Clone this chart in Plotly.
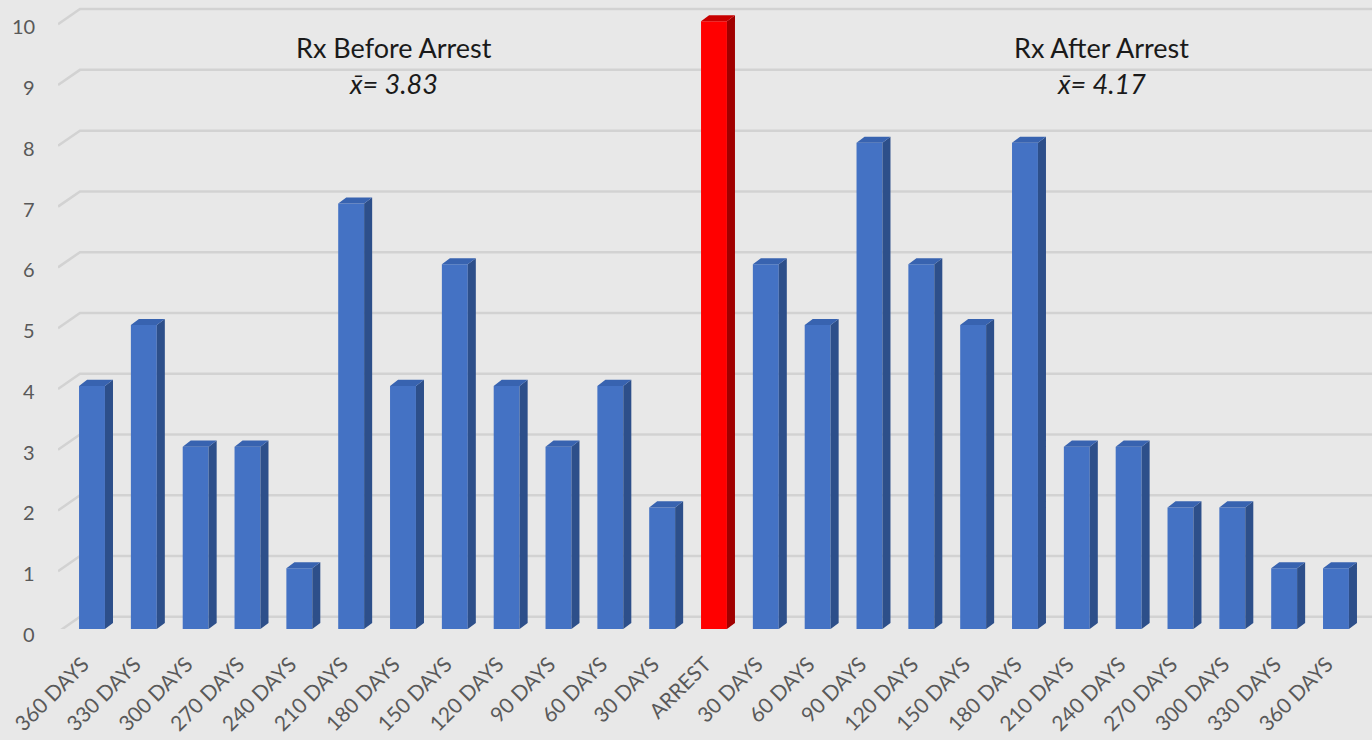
import plotly.graph_objects as go

# ---------------- data ----------------
categories = ["360 DAYS", "330 DAYS", "300 DAYS", "270 DAYS", "240 DAYS", "210 DAYS",
              "180 DAYS", "150 DAYS", "120 DAYS", "90 DAYS", "60 DAYS", "30 DAYS",
              "ARREST",
              "30 DAYS", "60 DAYS", "90 DAYS", "120 DAYS", "150 DAYS", "180 DAYS",
              "210 DAYS", "240 DAYS", "270 DAYS", "300 DAYS", "330 DAYS", "360 DAYS"]
rx_before = [4, 5, 3, 3, 1, 7, 4, 6, 4, 3, 4, 2]
arrest_value = [10]
rx_after = [6, 5, 8, 6, 5, 8, 3, 3, 2, 2, 1, 1]
y_ticks = list(range(0, 11))
label_before = "Rx Before Arrest"
mean_before = "x\u0304= 3.83"
label_after = "Rx After Arrest"
mean_after = "x\u0304= 4.17"

# ---------------- styling ----------------
values = rx_before + arrest_value + rx_after
n = len(values)
xs = list(range(n))
arrest_idx = len(rx_before)

BG = "#e8e8e8"
GRID = "#d2d2d2"
TXT = "#595959"
FRONT_B, SIDE_B, TOP_B = "#4472C4", "#2D4F8A", "#3863B0"
FRONT_R, SIDE_R, TOP_R = "#FF0000", "#A00000", "#C80000"
FONT = "Lato"

BAR_W = 0.5
DX = 0.155   # depth offset in x units
DY = 0.10    # depth offset in y units
X0, X1 = -0.656, 24.695
Y0, Y1 = 0, 10.3

fig = go.Figure()

# front faces
front_colors = [FRONT_R if i == arrest_idx else FRONT_B for i in xs]
fig.add_trace(go.Bar(x=xs, y=values, width=BAR_W, marker=dict(color=front_colors, line=dict(width=0)),
                     hoverinfo="skip", showlegend=False))

def faces(idx_list):
    sx, sy, tx, ty = [], [], [], []
    for i in idx_list:
        v = values[i]
        r = i + BAR_W / 2
        l = i - BAR_W / 2
        sx += [r, r + DX, r + DX, r, r, None]
        sy += [0, DY, v + DY, v, 0, None]
        tx += [l, l + DX, r + DX, r, l, None]
        ty += [v, v + DY, v + DY, v, v, None]
    return sx, sy, tx, ty

blue_idx = [i for i in xs if i != arrest_idx]
for idxs, sc, tc in [(blue_idx, SIDE_B, TOP_B), ([arrest_idx], SIDE_R, TOP_R)]:
    sx, sy, tx, ty = faces(idxs)
    fig.add_trace(go.Scatter(x=sx, y=sy, mode="lines", fill="toself", fillcolor=sc,
                             line=dict(width=0, color=sc), hoverinfo="skip", showlegend=False))
    fig.add_trace(go.Scatter(x=tx, y=ty, mode="lines", fill="toself", fillcolor=tc,
                             line=dict(width=0, color=tc), hoverinfo="skip", showlegend=False))

# back-wall gridlines with perspective diagonal
for v in y_ticks:
    fig.add_shape(type="path", layer="below", xref="x", yref="y",
                  path=f"M {X0},{v - 0.05} L {X0 + 0.424},{v + 0.2} L {X1},{v + 0.2}",
                  line=dict(color=GRID, width=2.5))
    fig.add_annotation(x=0, xref="paper", xanchor="right", xshift=-21,
                       y=v, yref="y", yanchor="middle", yshift=-5,
                       text=str(v), showarrow=False, font=dict(family=FONT, size=20, color=TXT))

# headers
for xp, t1, t2 in [(0.2557, label_before, mean_before), (0.7945, label_after, mean_after)]:
    fig.add_annotation(x=xp, xref="paper", y=0.9297, yref="paper", text=t1, showarrow=False,
                       xanchor="center", yanchor="middle", font=dict(family=FONT, size=27, color="#1a1a1a"))
    fig.add_annotation(x=xp, xref="paper", y=0.8722, yref="paper", text=f"<i>{t2}</i>", showarrow=False,
                       xanchor="center", yanchor="middle", font=dict(family=FONT, size=27, color="#1a1a1a"))

fig.update_layout(
    width=1372, height=740,
    margin=dict(l=58, r=0, t=3, b=111),
    paper_bgcolor=BG, plot_bgcolor=BG,
    bargap=0.5,
    xaxis=dict(range=[X0, X1], tickmode="array", tickvals=xs, ticktext=categories,
               tickangle=-45, showgrid=False, zeroline=False, showline=False, ticks="",
               ticklabelstandoff=18, ticklabelshift=-9,
               tickfont=dict(family=FONT, size=21, color=TXT)),
    yaxis=dict(range=[Y0, Y1], showgrid=False, zeroline=False, showline=False,
               showticklabels=False, ticks=""),
    showlegend=False,
)

fig.write_html("out.html", config={"displayModeBar": False},
               post_script="document.body.style.margin='0';document.body.style.background='#e8e8e8';")
